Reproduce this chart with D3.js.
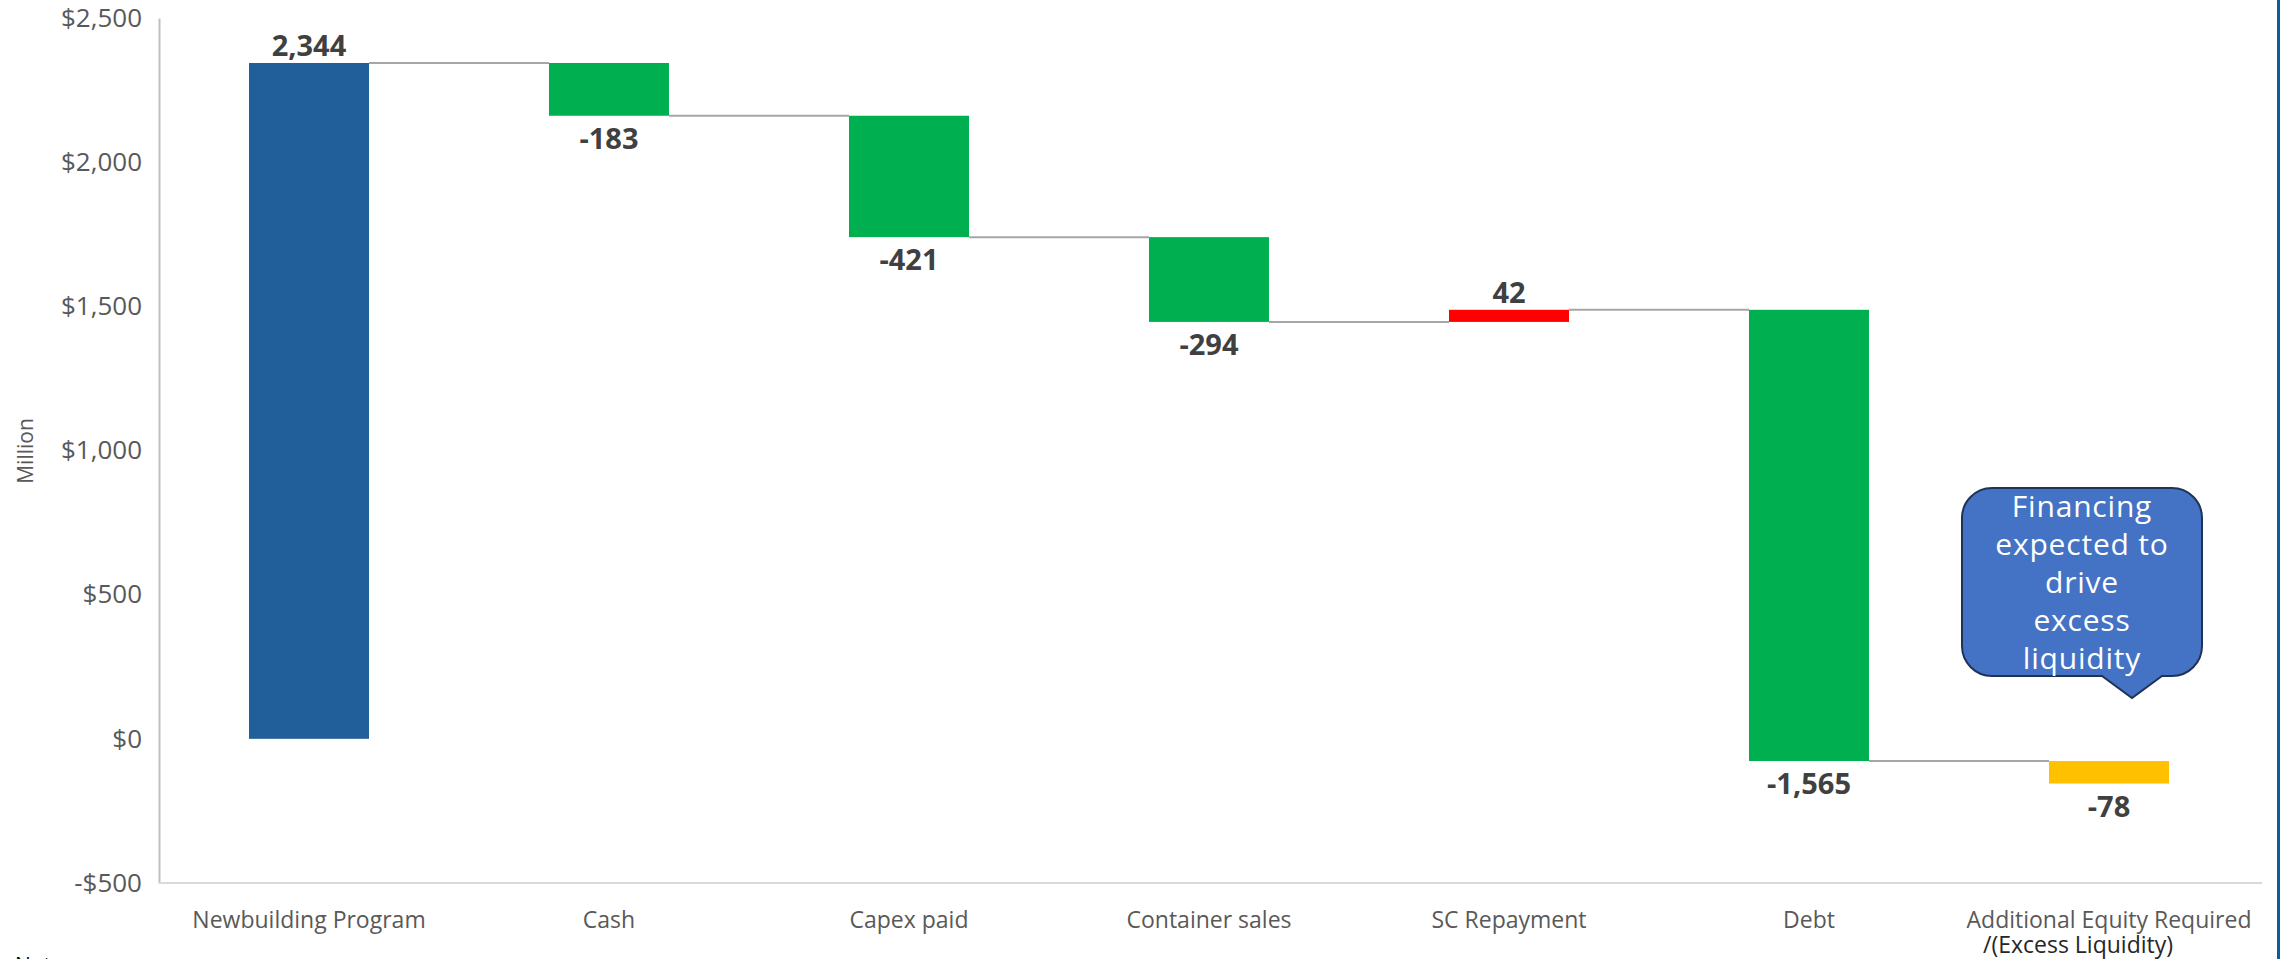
<!DOCTYPE html>
<html>
<head>
<meta charset="utf-8">
<script src="https://cdn.jsdelivr.net/npm/d3@7"></script>
<style>
  html, body { margin: 0; padding: 0; background: #ffffff; }
  svg { display: block; }
</style>
</head>
<body>
<svg id="chart" width="2280" height="959"></svg>
<script>
// Bridge of the newbuilding programme funding, in $ million
const categories = [
  "Newbuilding Program",
  "Cash",
  "Capex paid",
  "Container sales",
  "SC Repayment",
  "Debt",
  "Additional Equity Required\n/(Excess Liquidity)"
];
const deltas = [2344, -183, -421, -294, 42, -1565, -78];
const kinds = ["start", "reduction", "reduction", "reduction", "increase", "reduction", "result"];
const yTicks = [-500, 0, 500, 1000, 1500, 2000, 2500];
const yLabel = "Million";
const calloutLines = ["Financing", "expected to", "drive", "excess", "liquidity"];
const noteText = "Notes:";

const kindColor = {
  start: "#215f9a",
  reduction: "#00b050",
  increase: "#ff0000",
  result: "#ffc000"
};

const W = 2280, H = 959;
const margin = { top: 18, right: 21, bottom: 76, left: 159 };

const svg = d3.select("#chart");

const locale = d3.formatLocale({
  decimal: ".", thousands: ",", grouping: [3], currency: ["$", ""], minus: "-"
});
const fmtTick = locale.format("$,");
const fmtVal = locale.format(",");

// running totals: each bar floats from the previous level to the new one
let level = 0;
const bars = deltas.map((d, i) => {
  const from = (i === 0) ? 0 : level;
  const to = from + d;
  level = to;
  return { cat: categories[i], delta: d, kind: kinds[i], from, to };
});

const x = d3.scaleBand()
  .domain(categories)
  .range([margin.left, W - margin.right])
  .paddingInner(0.6)
  .paddingOuter(0.3);

const y = d3.scaleLinear()
  .domain([-500, 2500])
  .range([H - margin.bottom, margin.top]);

// y axis
const yAxis = svg.append("g")
  .attr("transform", `translate(${margin.left},0)`)
  .call(d3.axisLeft(y).tickValues(yTicks).tickFormat(fmtTick).tickSize(0).tickPadding(17));
yAxis.select(".domain").attr("stroke", "#bfbfbf").attr("stroke-width", 2);
yAxis.selectAll("text")
  .attr("fill", "#595959")
  .style("font-family", "'Open Sans', sans-serif")
  .style("font-size", "26px");

// x axis
const xAxis = svg.append("g")
  .attr("transform", `translate(0,${y(-500)})`)
  .call(d3.axisBottom(x).tickSize(0).tickPadding(29));
xAxis.select(".domain").attr("stroke", "#d9d9d9").attr("stroke-width", 2)
  .attr("d", `M${margin.left},0H${W - margin.right + 3}`);
xAxis.selectAll("text")
  .attr("fill", "#595959")
  .style("font-family", "'Open Sans', sans-serif")
  .style("font-size", "23px")
  .each(function (d) {
    const parts = d.split("\n");
    if (parts.length > 1) {
      const t = d3.select(this).text(null);
      t.append("tspan").attr("x", 0).text(parts[0]);
      t.append("tspan").attr("x", -31).attr("dy", 25).attr("fill", "#262626").text(parts[1]);
    }
  });

// y axis title
svg.append("text")
  .attr("transform", `translate(33,451) rotate(-90)`)
  .attr("text-anchor", "middle")
  .attr("fill", "#595959")
  .style("font-family", "'Open Sans', sans-serif")
  .style("font-size", "21px")
  .text(yLabel);

// connector lines between consecutive bars
svg.append("g").selectAll("line")
  .data(bars.slice(0, -1))
  .join("line")
  .attr("x1", (d) => x(d.cat) + x.bandwidth())
  .attr("x2", (d, i) => x(bars[i + 1].cat))
  .attr("y1", (d) => y(d.to))
  .attr("y2", (d) => y(d.to))
  .attr("stroke", "#a6a6a6")
  .attr("stroke-width", 2);

// bars
svg.append("g").selectAll("rect")
  .data(bars)
  .join("rect")
  .attr("x", (d) => x(d.cat))
  .attr("width", x.bandwidth())
  .attr("y", (d) => y(Math.max(d.from, d.to)))
  .attr("height", (d) => Math.abs(y(d.from) - y(d.to)))
  .attr("fill", (d) => kindColor[d.kind]);

// value labels: above rising bars, below falling ones
svg.append("g").selectAll("text")
  .data(bars)
  .join("text")
  .attr("x", (d) => x(d.cat) + x.bandwidth() / 2)
  .attr("y", (d) => d.delta >= 0 ? y(Math.max(d.from, d.to)) - 7 : y(Math.min(d.from, d.to)) + 33)
  .attr("text-anchor", "middle")
  .attr("fill", "#404040")
  .style("font-family", "'Open Sans', sans-serif")
  .style("font-weight", "700")
  .style("font-size", "29px")
  .text((d) => fmtVal(d.delta));

// callout over the final bar
const last = bars[bars.length - 1];
const cx = x(last.cat) + x.bandwidth() / 2;
const tipY = y(Math.max(last.from, last.to)) - 63;
const bx0 = cx - 147, bx1 = cx + 93, by0 = tipY - 210, by1 = tipY - 22, r = 30;
const px0 = cx - 7, px1 = cx + 53, tipX = cx + 23;
const callout = svg.append("g");
callout.append("path")
  .attr("d", [
    `M${bx0 + r},${by0}`,
    `H${bx1 - r}`,
    `A${r},${r} 0 0 1 ${bx1},${by0 + r}`,
    `V${by1 - r}`,
    `A${r},${r} 0 0 1 ${bx1 - r},${by1}`,
    `H${px1}`,
    `L${tipX},${tipY}`,
    `L${px0},${by1}`,
    `H${bx0 + r}`,
    `A${r},${r} 0 0 1 ${bx0},${by1 - r}`,
    `V${by0 + r}`,
    `A${r},${r} 0 0 1 ${bx0 + r},${by0}`,
    "Z"
  ].join(""))
  .attr("fill", "#4472c4")
  .attr("stroke", "#1f3356")
  .attr("stroke-width", 2);
callout.append("g").selectAll("text")
  .data(calloutLines)
  .join("text")
  .attr("x", (bx0 + bx1) / 2)
  .attr("y", (d, i) => by0 + 29 + i * 38)
  .attr("text-anchor", "middle")
  .attr("fill", "#ffffff")
  .style("font-family", "'Open Sans', sans-serif")
  .style("font-size", "30px")
  .style("letter-spacing", "0.8px")
  .text((d) => d);

// footnote heading, cut by the bottom edge
svg.append("text")
  .attr("x", 15)
  .attr("y", 973)
  .attr("fill", "#000000")
  .style("font-family", "'Open Sans', sans-serif")
  .style("font-size", "21px")
  .text(noteText);

// blue frame edge on the right
svg.append("rect")
  .attr("x", W - 3)
  .attr("y", 0)
  .attr("width", 3)
  .attr("height", H)
  .attr("fill", "#0d5c9e");
</script>
</body>
</html>
